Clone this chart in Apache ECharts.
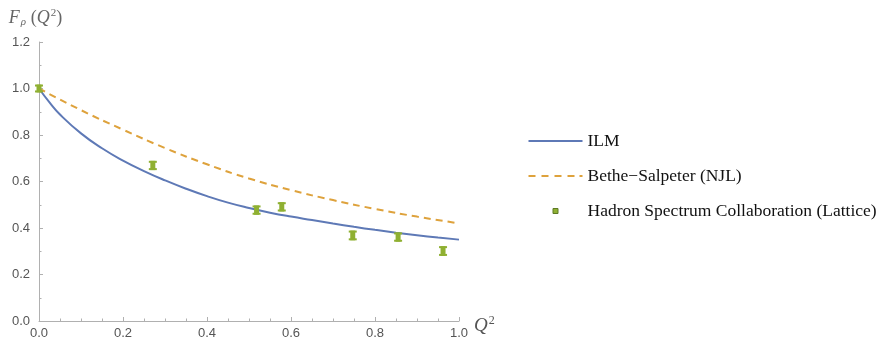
<!DOCTYPE html>
<html>
<head>
<meta charset="utf-8">
<script src="https://cdn.jsdelivr.net/npm/echarts@6/dist/echarts.min.js"></script>
<style>
  html, body { margin: 0; padding: 0; background: #fff; }
  #main { width: 882px; height: 343px; }
</style>
</head>
<body>
<div id="main"></div>
<script>
// ILM curve
var ilmQ = [0, 0.025, 0.05, 0.1, 0.15, 0.2, 0.25, 0.3, 0.35, 0.4, 0.45, 0.5, 0.55, 0.6, 0.65, 0.7, 0.75, 0.8, 0.85, 0.9, 0.95, 1.0];
var ilmF = [1.0, 0.94, 0.888, 0.807, 0.743, 0.69, 0.645, 0.605, 0.569, 0.537, 0.509, 0.486, 0.466, 0.449, 0.434, 0.419, 0.405, 0.392, 0.38, 0.369, 0.359, 0.35];

// Bethe-Salpeter (NJL) curve
var njlQ = [0, 0.1, 0.2, 0.3, 0.4, 0.5, 0.6, 0.7, 0.8, 0.9, 1.0];
var njlF = [1.0, 0.907, 0.823, 0.744, 0.674, 0.613, 0.563, 0.52, 0.482, 0.449, 0.42];

// Hadron Spectrum Collaboration (Lattice) points
var latQ = [0.0, 0.271, 0.518, 0.578, 0.747, 0.855, 0.962];
var latF = [1.0, 0.669, 0.477, 0.491, 0.368, 0.361, 0.301];
var latErr = [0.017, 0.02, 0.02, 0.02, 0.021, 0.02, 0.021];

var xTicks = [0, 0.2, 0.4, 0.6, 0.8, 1.0];
var yTicks = [0, 0.2, 0.4, 0.6, 0.8, 1.0, 1.2];

document.addEventListener('DOMContentLoaded', function () {
  var myChart = echarts.init(document.getElementById('main'));

  function pairs(xs, ys) {
    return xs.map(function (x, i) { return [x, ys[i]]; });
  }

  var axisGray = '#b0b0b0';
  var labelStyle = { color: '#555', fontSize: 13, fontFamily: 'Liberation Sans' };
  var serif = 'Liberation Serif';
  var blue = '#5e79b6', orange = '#dea23c', green = '#8fb032';

  // legend icons: plain line / dashed line / small square, all in a 54x14 box
  var box = 'M0,0M54,14';
  var solidIcon = 'path://' + box + 'M0,6L54,6L54,8L0,8Z';
  var dashIcon = 'path://' + box +
    'M0,6h7v2h-7Z M13,6h7v2h-7Z M26,6h7v2h-7Z M39,6h7v2h-7Z M51,6h3v2h-3Z';
  var squareIcon = 'path://' + box + 'M24.5,4.5L29.5,4.5L29.5,9.5L24.5,9.5Z';

  var option = {
    animation: false,
    grid: { left: 39, right: 423, top: 42, bottom: 22 },
    legend: {
      orient: 'vertical',
      left: 523,
      top: 127,
      itemWidth: 54,
      itemHeight: 14,
      itemGap: 17,
      textStyle: { fontFamily: serif, fontSize: 17.5, color: '#111' },
      data: [
        { name: 'ILM', icon: solidIcon },
        { name: 'Bethe\u2212Salpeter (NJL)', icon: dashIcon },
        {
          name: 'Hadron Spectrum Collaboration (Lattice)',
          icon: squareIcon,
          itemStyle: { color: green, borderColor: '#5d7a24', borderWidth: 1 }
        }
      ]
    },
    xAxis: {
      type: 'value',
      min: 0,
      max: 1,
      interval: 0.2,
      name: '{i|Q}{sup|2}',
      nameLocation: 'end',
      nameGap: 14,
      nameTextStyle: {
        padding: [10, 0, 0, 0],
        rich: {
          i: { fontFamily: serif, fontStyle: 'italic', fontSize: 19, color: '#555' },
          sup: { fontFamily: serif, fontSize: 12, color: '#555', padding: [0, 0, 10, 1] }
        }
      },
      axisLine: { lineStyle: { color: axisGray } },
      axisTick: { inside: true, length: 4, lineStyle: { color: axisGray } },
      minorTick: { show: true, splitNumber: 4, length: 2.5, lineStyle: { color: axisGray } },
      axisLabel: Object.assign({ margin: 6, formatter: function (v) { return v.toFixed(1); } }, labelStyle),
      splitLine: { show: false }
    },
    yAxis: {
      type: 'value',
      min: 0,
      max: 1.2,
      interval: 0.2,
      name: '{i|F}{sub|\u03c1}{n| (}{i|Q}{sup|2}{n|)}',
      nameLocation: 'end',
      nameGap: 14,
      nameTextStyle: {
        padding: [0, 7, 0, 0],
        rich: {
          i: { fontFamily: serif, fontStyle: 'italic', fontSize: 18, color: '#666' },
          n: { fontFamily: serif, fontSize: 18, color: '#666' },
          sub: { fontFamily: serif, fontStyle: 'italic', fontSize: 11, color: '#666', padding: [8, 0, 0, 1] },
          sup: { fontFamily: serif, fontSize: 11, color: '#666', padding: [0, 0, 9, 1] }
        }
      },
      axisLine: { show: true, lineStyle: { color: axisGray } },
      axisTick: { show: true, inside: true, length: 4, lineStyle: { color: axisGray } },
      minorTick: { show: true, splitNumber: 2, length: 2.5, lineStyle: { color: axisGray } },
      axisLabel: Object.assign({ margin: 9, formatter: function (v) { return v.toFixed(1); } }, labelStyle),
      splitLine: { show: false }
    },
    series: [
      {
        name: 'ILM',
        type: 'line',
        smooth: true,
        symbol: 'none',
        data: pairs(ilmQ, ilmF),
        lineStyle: { color: blue, width: 2 },
        itemStyle: { color: blue },
        z: 3
      },
      {
        name: 'Bethe\u2212Salpeter (NJL)',
        type: 'line',
        smooth: true,
        symbol: 'none',
        data: pairs(njlQ, njlF),
        lineStyle: { color: orange, width: 2, type: [7, 5] },
        itemStyle: { color: orange },
        z: 2
      },
      {
        name: 'Hadron Spectrum Collaboration (Lattice)',
        type: 'custom',
        itemStyle: { color: green },
        data: latQ.map(function (q, i) { return [q, latF[i], latErr[i]]; }),
        renderItem: function (params, api) {
          var x = api.value(0), y = api.value(1), e = api.value(2);
          var top = api.coord([x, y + e]);
          var bot = api.coord([x, y - e]);
          return {
            type: 'group',
            children: [
              { type: 'rect', shape: { x: top[0] - 2.5, y: top[1], width: 5, height: bot[1] - top[1] }, style: { fill: green } },
              { type: 'rect', shape: { x: top[0] - 4, y: top[1], width: 8, height: 2 }, style: { fill: green } },
              { type: 'rect', shape: { x: top[0] - 4, y: bot[1] - 2, width: 8, height: 2 }, style: { fill: green } }
            ]
          };
        },
        z: 4
      }
    ]
  };
  myChart.setOption(option);
});
</script>
</body>
</html>
